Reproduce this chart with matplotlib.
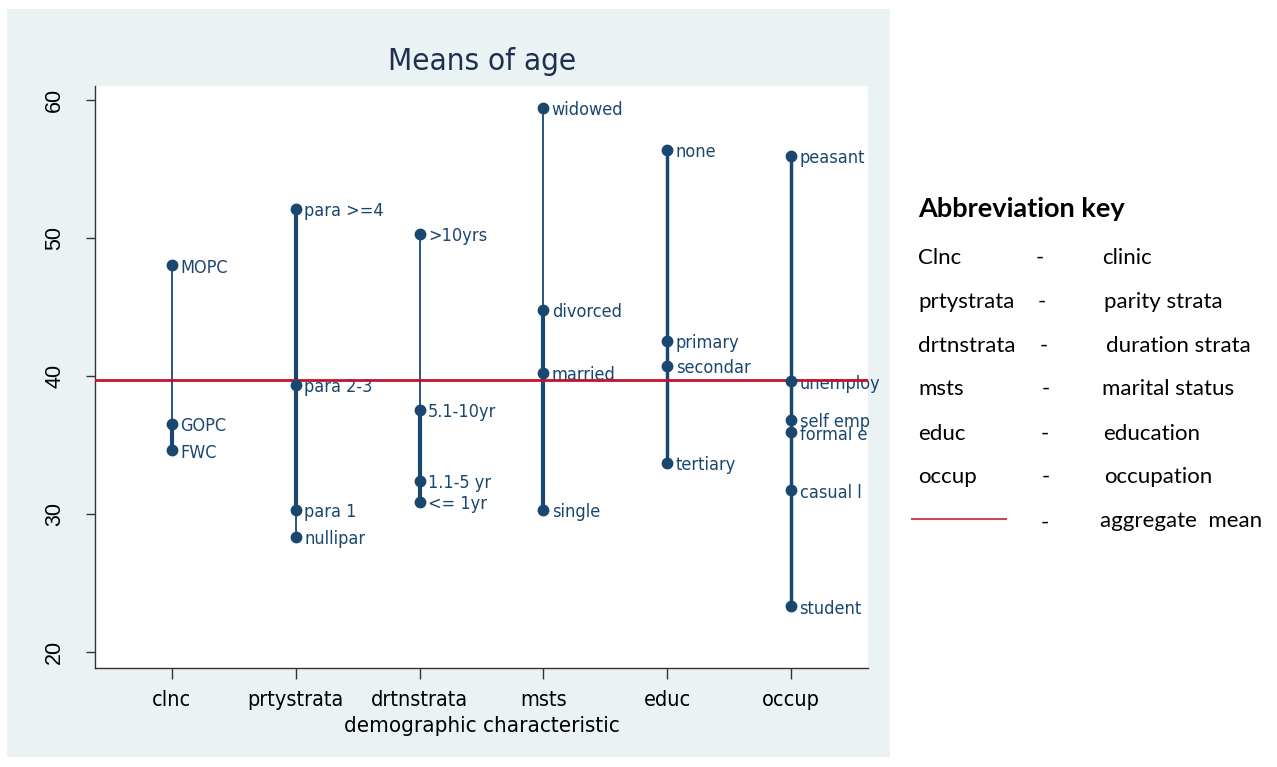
import matplotlib
matplotlib.use("Agg")
import matplotlib.pyplot as plt
from matplotlib import font_manager
from matplotlib.font_manager import FontProperties
from matplotlib.patches import Rectangle
from matplotlib.lines import Line2D

# ---------------- data ----------------
groups = ["clnc", "prtystrata", "drtnstrata", "msts", "educ", "occup"]

clnc_labels = ["MOPC", "GOPC", "FWC"]
clnc_means = [48.0, 36.5, 34.6]

prty_labels = ["para >=4", "para 2-3", "para 1", "nullipar"]
prty_means = [52.1, 39.35, 30.3, 28.3]

drtn_labels = [">10yrs", "5.1-10yr", "1.1-5 yr", "<= 1yr"]
drtn_means = [50.3, 37.5, 32.4, 30.9]

msts_labels = ["widowed", "divorced", "married", "single"]
msts_means = [59.4, 44.8, 40.2, 30.3]

educ_labels = ["none", "primary", "secondar", "tertiary"]
educ_means = [56.4, 42.5, 40.7, 33.7]

occup_labels = ["peasant", "unemploy", "self emp", "formal e", "casual l", "student"]
occup_means = [55.9, 39.6, 36.8, 35.9, 31.7, 23.3]

aggregate_mean = 39.7
y_ticks = [20, 30, 40, 50, 60]

key_abbrev = ["Clnc", "prtystrata", "drtnstrata", "msts", "educ", "occup"]
key_meaning = ["clinic", "parity strata", "duration strata", "marital status", "education", "occupation"]

# ---------------- fonts ----------------
def pick_narrow():
    cands = []
    for f in font_manager.fontManager.ttflist:
        if f.style != "normal" or f.weight not in (400, "normal", "regular"):
            continue
        n = f.name
        st = str(f.stretch)
        if "Narrow" in n and "Liberation" in n:
            cands.append((0, f.fname))
        elif n == "DejaVu Sans" and (st in ("condensed", "semi-condensed") or "Condensed" in f.fname):
            cands.append((1, f.fname))
        elif "Condensed" in n or "Narrow" in n:
            cands.append((2, f.fname))
    if cands:
        cands.sort()
        return cands[0][1]
    return None

narrow_path = pick_narrow()
def NF(size):
    if narrow_path:
        return FontProperties(fname=narrow_path, size=size)
    return FontProperties(family="Liberation Sans", size=size)

NAVY = "#1A476F"
RED = "#C8102E"
BG = "#EAF2F3"

# per-segment line widths (thin / thick look of the original)
seg_widths = [
    [1.3, 3.0],
    [3.0, 3.0, 1.3],
    [1.3, 3.0, 3.0],
    [1.3, 3.0, 3.0],
    [2.5, 2.5, 2.5],
    [2.5, 2.5, 2.5, 2.5, 2.5],
]

all_labels = [clnc_labels, prty_labels, drtn_labels, msts_labels, educ_labels, occup_labels]
all_means = [clnc_means, prty_means, drtn_means, msts_means, educ_means, occup_means]

fig = plt.figure(figsize=(12.77, 7.67), dpi=100)
fig.patch.set_facecolor("white")
fig.patches.append(Rectangle((7 / 1277, 1 - 757 / 767), (890 - 7) / 1277, (757 - 9) / 767,
                             transform=fig.transFigure, facecolor=BG, edgecolor="none", zorder=-5))

ax = fig.add_axes([95 / 1277, 1 - 668 / 767, (868 - 95) / 1277, (668 - 86) / 767])
ax.set_zorder(1)
ax.set_facecolor("white")
xpos = list(range(1, len(groups) + 1))

for i, (labs, vals) in enumerate(zip(all_labels, all_means)):
    x = xpos[i]
    for j in range(len(vals) - 1):
        ax.plot([x, x], [vals[j], vals[j + 1]], color=NAVY, lw=seg_widths[i][j],
                solid_capstyle="butt", zorder=3)
    ax.plot([x] * len(vals), vals, "o", color=NAVY, ms=7.5, zorder=5)
    for lab, v in zip(labs, vals):
        ax.annotate(lab, (x, v), xytext=(6, -1.5), textcoords="offset points",
                    ha="left", va="center", color=NAVY, fontproperties=NF(13), zorder=4,
                    annotation_clip=False)

ax.axhline(aggregate_mean, color=RED, lw=2.0, zorder=4.5)

ax.set_xlim(0.38, 6.62)
ax.set_ylim(18.84, 61.0)
ax.set_xticks(xpos)
ax.set_xticklabels(groups, fontproperties=NF(15.5))
ax.set_yticks(y_ticks)
ax.set_yticklabels([str(t) for t in y_ticks], rotation=90, va="center", fontsize=15.5,
                   family="Liberation Sans")
ax.tick_params(axis="x", length=8, width=1, color="#333333", pad=8)
ax.tick_params(axis="y", length=6.5, width=1, color="#333333", pad=15)
for s in ["top", "right"]:
    ax.spines[s].set_visible(False)
for s in ["left", "bottom"]:
    ax.spines[s].set_color("#333333")
    ax.spines[s].set_linewidth(1)
ax.set_xlabel("demographic characteristic", fontproperties=NF(16), labelpad=4)

fig.text(482 / 1277, 1 - 61 / 767, "Means of age", ha="center", va="center",
         fontproperties=NF(22.5), color="#1E2F4F")

# ---------------- abbreviation key ----------------
kf = "Lato"
ks = 16
fig.text(918 / 1277, 1 - 209 / 767, "Abbreviation key", ha="left", va="center",
         fontsize=19.5, fontweight="bold", family=kf, color="black")
rows_y = [258, 302, 346, 389, 434, 477]
dash_x = [1040, 1042, 1044, 1046, 1045, 1046]
mean_x = [1102, 1104, 1106, 1102, 1103, 1104]
for yy, ab, me, dx, mx in zip(rows_y, key_abbrev, key_meaning, dash_x, mean_x):
    fig.text(918 / 1277, 1 - yy / 767, ab, ha="left", va="center", fontsize=ks, family=kf)
    fig.text(dx / 1277, 1 - yy / 767, "-", ha="center", va="center", fontsize=ks, family=kf)
    fig.text(mx / 1277, 1 - yy / 767, me, ha="left", va="center", fontsize=ks, family=kf)
fig.lines.append(Line2D([912 / 1277, 1006 / 1277], [1 - 519 / 767, 1 - 519 / 767],
                        transform=fig.transFigure, color="#C0504D", lw=1.5))
fig.text(1045 / 1277, 1 - 523 / 767, "-", ha="center", va="center", fontsize=ks, family=kf)
fig.text(1100 / 1277, 1 - 521 / 767, "aggregate  mean", ha="left", va="center", fontsize=ks, family=kf)

fig.savefig("out.png", dpi=100, facecolor="white")
